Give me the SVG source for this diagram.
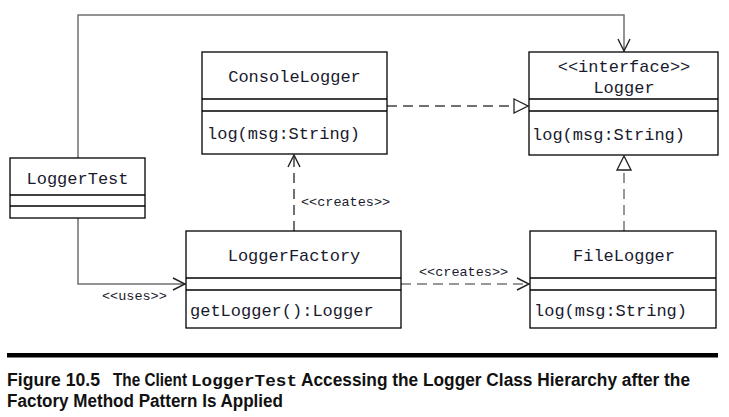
<svg xmlns="http://www.w3.org/2000/svg" width="729" height="417" viewBox="0 0 729 417">
<defs>
<style>
.box{fill:#fff;stroke:#000;stroke-width:1.3}
.div{stroke:#000;stroke-width:1.3}
.t{font-family:"Liberation Mono","Courier New",monospace;font-size:17px;fill:#1a1a2e}
.s{font-family:"Liberation Mono","Courier New",monospace;font-size:13.5px;fill:#1a1a2e}
.solid{fill:none;stroke:#707070;stroke-width:1.5}
.dash{fill:none;stroke:#444;stroke-width:1.5;stroke-dasharray:10,6}
.dashg{fill:none;stroke:#777;stroke-width:1.5;stroke-dasharray:10,6}
.cap{font-family:"Liberation Sans Narrow","Liberation Sans",sans-serif;font-size:18px;font-weight:bold;fill:#111}
.capm{font-family:"Liberation Mono","Courier New",monospace;font-weight:bold;font-size:16px;fill:#111}
</style>
<marker id="open" viewBox="0 0 14 14" refX="13" refY="7" markerWidth="14" markerHeight="14" markerUnits="userSpaceOnUse" orient="auto">
<path d="M1,1 L13,7 L1,13" fill="none" stroke="#222" stroke-width="1.4"/>
</marker>
<marker id="tri" viewBox="0 0 16 16" refX="15" refY="8" markerWidth="16" markerHeight="16" markerUnits="userSpaceOnUse" orient="auto">
<path d="M1,1 L15,8 L1,15 Z" fill="#fff" stroke="#222" stroke-width="1.3"/>
</marker>
</defs>

<g id="connectors">
<path class="solid" d="M78,158 V15 H624 V51" marker-end="url(#open)"/>
<path class="solid" d="M78,218 V284 H185" marker-end="url(#open)"/>
<path class="dash" d="M387,106 H528" marker-end="url(#tri)"/>
<path class="dash" d="M294,231 V155" marker-end="url(#open)"/>
<path class="dashg" d="M401,284 H529" marker-end="url(#open)"/>
<path class="dashg" d="M624,231 V156" marker-end="url(#tri)"/>
<text class="s" x="102" y="300">&lt;&lt;uses&gt;&gt;</text>
<text class="s" x="301" y="206">&lt;&lt;creates&gt;&gt;</text>
<text class="s" x="419" y="276">&lt;&lt;creates&gt;&gt;</text>
</g>

<g id="ConsoleLogger">
<rect class="box" x="202" y="52" width="185" height="102"/>
<line class="div" x1="202" y1="99" x2="387" y2="99"/>
<line class="div" x1="202" y1="111" x2="387" y2="111"/>
<text class="t" x="294.5" y="82" text-anchor="middle">ConsoleLogger</text>
<text class="t" x="207" y="139">log(msg:String)</text>
</g>

<g id="Logger">
<rect class="box" x="529" y="52" width="189" height="103"/>
<line class="div" x1="529" y1="99" x2="718" y2="99"/>
<line class="div" x1="529" y1="111" x2="718" y2="111"/>
<text class="t" x="624" y="72" text-anchor="middle">&lt;&lt;interface&gt;&gt;</text>
<text class="t" x="624" y="93" text-anchor="middle">Logger</text>
<text class="t" x="532" y="140">log(msg:String)</text>
</g>

<g id="LoggerTest">
<rect class="box" x="10" y="158" width="135" height="60"/>
<line class="div" x1="10" y1="195" x2="145" y2="195"/>
<line class="div" x1="10" y1="206" x2="145" y2="206"/>
<text class="t" x="77.5" y="184" text-anchor="middle">LoggerTest</text>
</g>

<g id="LoggerFactory">
<rect class="box" x="186" y="231" width="215" height="97"/>
<line class="div" x1="186" y1="278" x2="401" y2="278"/>
<line class="div" x1="186" y1="290" x2="401" y2="290"/>
<text class="t" x="294" y="261" text-anchor="middle">LoggerFactory</text>
<text class="t" x="190" y="316">getLogger():Logger</text>
</g>

<g id="FileLogger">
<rect class="box" x="530" y="231" width="186" height="97"/>
<line class="div" x1="530" y1="278" x2="716" y2="278"/>
<line class="div" x1="530" y1="290" x2="716" y2="290"/>
<text class="t" x="624" y="261" text-anchor="middle">FileLogger</text>
<text class="t" x="534" y="316">log(msg:String)</text>
</g>

<g id="caption">
<rect x="7" y="353" width="711" height="4.5" fill="#000"/>
<text class="cap" x="7" y="386" textLength="93" lengthAdjust="spacingAndGlyphs">Figure 10.5</text>
<text class="cap" x="113" y="386" textLength="74" lengthAdjust="spacingAndGlyphs">The Client</text>
<text class="capm" x="191" y="386" textLength="106" lengthAdjust="spacingAndGlyphs">LoggerTest</text>
<text class="cap" x="301" y="386" textLength="389" lengthAdjust="spacingAndGlyphs">Accessing the Logger Class Hierarchy after the</text>
<text class="cap" x="7" y="407" textLength="276" lengthAdjust="spacingAndGlyphs">Factory Method Pattern Is Applied</text>
</g>
</svg>
